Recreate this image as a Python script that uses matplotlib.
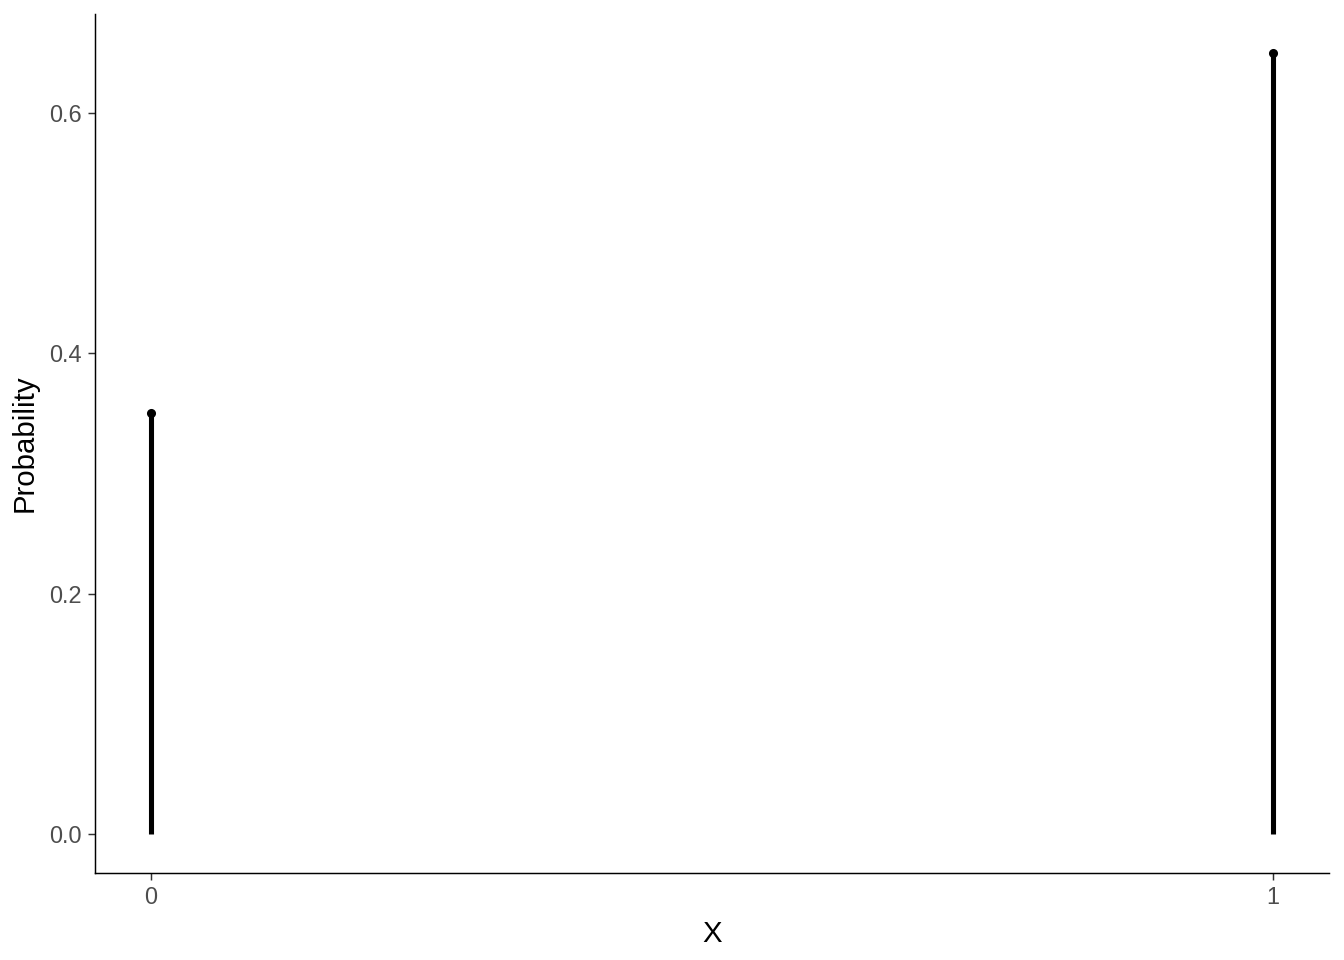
import matplotlib
matplotlib.use("Agg")
import matplotlib.pyplot as plt

# values
x_vals = [0, 1]
probs = [0.35, 0.65]
y_ticks = [0.0, 0.2, 0.4, 0.6]
x_ticks = [0, 1]

plt.rcParams['font.family'] = ['Liberation Sans', 'DejaVu Sans']

fig = plt.figure(figsize=(7, 5), dpi=192)
ax = fig.add_axes([95/1344, 87/960, (1329-95)/1344, (946-87)/960])

ax.vlines(x_vals, 0, probs, color='black', linewidth=1.9)
ax.plot(x_vals, probs, 'o', color='black', markersize=2.4)

ymax = max(probs)
ax.set_ylim(-0.05*ymax, ymax*1.05)
ax.set_xlim(-0.05, 1.05)
ax.set_xticks(x_ticks)
ax.set_xticklabels([str(v) for v in x_ticks])
ax.set_yticks(y_ticks)
ax.set_yticklabels([f"{v:.1f}" for v in y_ticks])

for s in ['top', 'right']:
    ax.spines[s].set_visible(False)
for s in ['left', 'bottom']:
    ax.spines[s].set_linewidth(0.55)
    ax.spines[s].set_color('black')
ax.tick_params(length=2.75, width=0.55, color='#333333', labelcolor='#4d4d4d',
               labelsize=8.8, pad=2.2)

ax.set_xlabel('X', fontsize=11, labelpad=4)
ax.set_ylabel('Probability', fontsize=11, labelpad=4)

fig.savefig('out.png', dpi=192)
